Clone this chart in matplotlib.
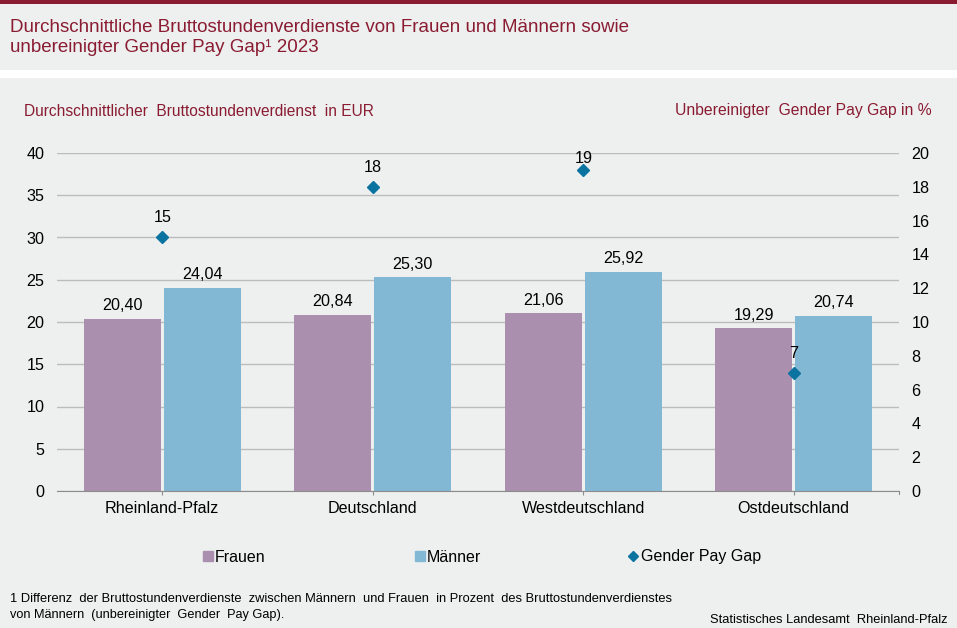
import numpy as np
import matplotlib
matplotlib.use("Agg")
import matplotlib.pyplot as plt
from matplotlib.patches import Rectangle

plt.rcParams["font.family"] = ["Liberation Sans", "DejaVu Sans"]

# Daten
regionen = ["Rheinland-Pfalz", "Deutschland", "Westdeutschland", "Ostdeutschland"]
frauen = [20.40, 20.84, 21.06, 19.29]
maenner = [24.04, 25.30, 25.92, 20.74]
gap = [15, 18, 19, 7]
ticks_links = [0, 5, 10, 15, 20, 25, 30, 35, 40]
ticks_rechts = [0, 2, 4, 6, 8, 10, 12, 14, 16, 18, 20]

rot = "#8a1c32"
bg = "#eef0f0"
W, H = 957, 628


def fx(px):
    return px / W


def fy(py):
    return 1 - py / H


def deutsch(v):
    return f"{v:.2f}".replace(".", ",")


fig = plt.figure(figsize=(W / 100, H / 100), dpi=100, facecolor=bg)

# Balken oben und weisser Streifen
fig.add_artist(Rectangle((0, fy(4)), 1, 4 / H, transform=fig.transFigure, color=rot, lw=0))
fig.add_artist(Rectangle((0, fy(78)), 1, 8 / H, transform=fig.transFigure, color="white", lw=0))

ax = fig.add_axes([fx(57), fy(491), (899 - 57) / W, (491 - 153) / H])
ax.set_facecolor(bg)
x = np.arange(len(regionen))
breite = 0.366
abstand = 0.007

ax.set_axisbelow(True)
ax.grid(axis="y", color="#bcbcbc", lw=1)
ax.bar(x - breite / 2 - abstand, frauen, breite, color="#ab8fae", label="Frauen", zorder=2)
ax.bar(x + breite / 2 + abstand, maenner, breite, color="#82b8d4", label="Männer", zorder=2)

for i in range(len(x)):
    ax.text(x[i] - breite / 2 - abstand, frauen[i] + 0.65, deutsch(frauen[i]), ha="center", va="bottom", fontsize=11.6, color="black", zorder=5)
    ax.text(x[i] + breite / 2 + abstand, maenner[i] + 0.65, deutsch(maenner[i]), ha="center", va="bottom", fontsize=11.6, color="black", zorder=5)

ax.set_xlim(-0.5, 3.5)
ax.set_ylim(0, 40)
ax.set_xticks(x)
ax.set_xticklabels(regionen, fontsize=11.6)
ax.set_yticks(ticks_links)
ax.tick_params(axis="y", length=0, labelsize=11.6, pad=9)
ax.tick_params(axis="x", length=3, color="#8c8c8c", pad=4)
for s in ["top", "left", "right"]:
    ax.spines[s].set_visible(False)
ax.spines["bottom"].set_color("#8c8c8c")
ax.spines["bottom"].set_zorder(4)
ax.plot([3.5, 3.5], [0, -0.35], color="#8c8c8c", lw=0.8, clip_on=False)

# zweite Achse fuer den Gender Pay Gap
ax2 = ax.twinx()
ax2.set_ylim(0, 20)
ax2.set_yticks(ticks_rechts)
ax2.tick_params(axis="y", length=0, labelsize=11.6, pad=9)
for s in ax2.spines.values():
    s.set_visible(False)
ax2.plot(x, gap, ls="none", marker="D", ms=6.2, color="#0a739f", label="Gender Pay Gap", zorder=6)
for i in range(len(x)):
    # der Wert 19 steht im Original direkt ueber dem Marker
    versatz = 0.26 if gap[i] == 19 else 0.72
    ax2.text(x[i], gap[i] + versatz, str(gap[i]), ha="center", va="bottom", fontsize=11.6, color="black", zorder=7)

# Titel
fig.text(fx(10), fy(28), "Durchschnittliche Bruttostundenverdienste von Frauen und Männern sowie", fontsize=13.5, color=rot, va="center")
fig.text(fx(10), fy(48), "unbereinigter Gender Pay Gap¹ 2023", fontsize=13.5, color=rot, va="center")
fig.text(fx(24), fy(111), "Durchschnittlicher  Bruttostundenverdienst  in EUR", fontsize=11.2, color=rot, va="center")
fig.text(fx(932), fy(110), "Unbereinigter  Gender Pay Gap in %", fontsize=11.3, color=rot, va="center", ha="right")

# Legende
legende = [(203, "#ab8fae", "s", "Frauen", 215), (415, "#82b8d4", "s", "Männer", 427), (628, "#0a739f", "D", "Gender Pay Gap", 641)]
for px, farbe, m, name, tx in legende:
    fig.add_artist(plt.Line2D([fx(px + 5)], [fy(556)], marker=m, ms=7 if m == "s" else 5, color=farbe, ls="none", transform=fig.transFigure))
    fig.text(fx(tx), fy(557), name, fontsize=11.5, color="black", va="center")

# Fussnote und Quelle
fig.text(fx(10), fy(599), "1 Differenz  der Bruttostundenverdienste  zwischen Männern  und Frauen  in Prozent  des Bruttostundenverdienstes", fontsize=9.3, va="center")
fig.text(fx(10), fy(615), "von Männern  (unbereinigter  Gender  Pay Gap).", fontsize=9.2, va="center")
fig.text(fx(947), fy(620), "Statistisches Landesamt  Rheinland-Pfalz", fontsize=9.25, va="center", ha="right")

fig.savefig("out.png", dpi=100, facecolor=bg)
plt.close(fig)
